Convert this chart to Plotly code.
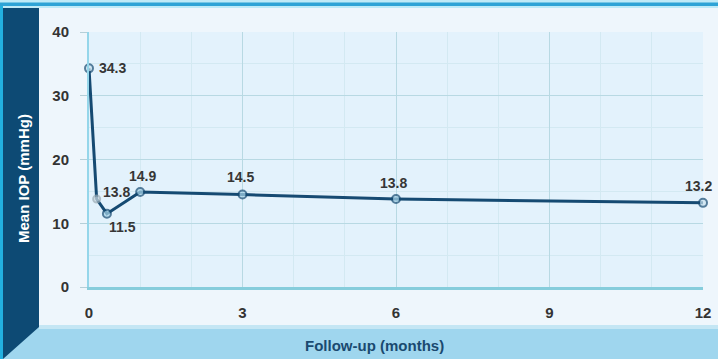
import plotly.graph_objects as go

# Data
months = [0, 0.15, 0.35, 1, 3, 6, 12]
mean_iop = [34.3, 13.8, 11.5, 14.9, 14.5, 13.8, 13.2]
labels = ["34.3", "13.8", "11.5", "14.9", "14.5", "13.8", "13.2"]
x_ticks = [0, 3, 6, 9, 12]
y_ticks = [0, 10, 20, 30, 40]

# label placement (style): anchor, xshift, yshift in pixels
label_style = [("left", 8, 0), ("left", 4, 7), ("left", 0, -13), ("center", 2, 16),
               ("center", -2, 18), ("center", -3, 16), ("center", -5, 17)]

W, H = 718, 359
L, R, T, B = 89, 15, 32, 72
PW, PH = W - L - R, H - T - B

def px(x):
    return (x - L) / PW

def py(y):
    return (H - B - y) / PH

FONT = "Liberation Sans, Arial, sans-serif"
NAVY = "#154a72"

fig = go.Figure()
fig.add_trace(go.Scatter(
    x=months, y=mean_iop, mode="lines+markers",
    line=dict(color=NAVY, width=3),
    marker=dict(size=[8, 7, 8, 8, 8, 8, 8],
                color=["#c8e2ef", "#d0dde3", "#a9d6ea", "#a9d6ea", "#a9d6ea", "#a9d6ea", "#c8e2ef"],
                line=dict(color=[NAVY, "#9aaab3", NAVY, NAVY, NAVY, NAVY, NAVY], width=2)),
    cliponaxis=False, showlegend=False, hoverinfo="x+y",
))

shapes = [
    # top strip
    dict(type="rect", xref="paper", yref="paper", x0=px(0), x1=px(W + 20), y0=py(8), y1=py(0),
         fillcolor="#bfeaf7", line_width=0, layer="below"),
    dict(type="rect", xref="paper", yref="paper", x0=px(0), x1=px(W + 20), y0=py(6), y1=py(2.5),
         fillcolor="#2ea3d6", line_width=0, layer="below"),
    # bottom band
    dict(type="rect", xref="paper", yref="paper", x0=px(0), x1=px(W + 20), y0=py(H), y1=py(327),
         fillcolor="#9fd6ee", line_width=0, layer="below"),
    dict(type="rect", xref="paper", yref="paper", x0=px(39), x1=px(W + 20), y0=py(329), y1=py(325),
         fillcolor="#c4e6f4", line_width=0, layer="below"),
    # left cyan border
    dict(type="rect", xref="paper", yref="paper", x0=px(0), x1=px(3), y0=py(H), y1=py(6),
         fillcolor="#22b0e0", line_width=0, layer="below"),
    # navy side panel with diagonal bottom
    dict(type="path", xref="paper", yref="paper",
         path=f"M {px(3)},{py(8)} L {px(39)},{py(8)} L {px(39)},{py(327)} L {px(3)},{py(359)} Z",
         fillcolor="#0d4a74", line_width=0, layer="below"),
]

annotations = [
    dict(text="Mean IOP (mmHg)", xref="paper", yref="paper", x=px(23), y=py(179),
         textangle=-90, showarrow=False, xanchor="center", yanchor="middle",
         font=dict(family=FONT, size=15, color="white", weight="bold")),
    dict(text="Follow-up (months)", xref="paper", yref="paper", x=px(374), y=py(345),
         showarrow=False, xanchor="center", yanchor="middle",
         font=dict(family=FONT, size=15, color="#1a4a70", weight="bold")),
]
for xv, yv, lab, (anc, xs, ys) in zip(months, mean_iop, labels, label_style):
    annotations.append(dict(
        x=xv, y=yv, xref="x", yref="y", text=lab, showarrow=False,
        xanchor=anc, yanchor="middle", xshift=xs, yshift=ys,
        font=dict(family=FONT, size=14, color="#363636", weight="bold")))

fig.update_layout(
    width=W, height=H, autosize=False,
    margin=dict(l=L, r=R, t=T, b=B, pad=0, autoexpand=False),
    paper_bgcolor="#eef6fc", plot_bgcolor="#e3f2fc",
    shapes=shapes, annotations=annotations,
    font=dict(family=FONT, color="#333333"),
)
fig.update_xaxes(
    range=[0, 12], tickvals=x_ticks, ticktext=[str(v) for v in x_ticks],
    showgrid=True, gridcolor="#b8d9e3", gridwidth=1,
    minor=dict(dtick=1, tick0=0, showgrid=True, gridcolor="#d3e9f2", gridwidth=1),
    showline=True, linecolor="#86cddc", linewidth=3,
    ticks="", ticklabelstandoff=10, zeroline=False, automargin=False,
    tickfont=dict(family=FONT, size=15, color="#333333", weight="bold"),
)
fig.update_yaxes(
    range=[0, 40], tickvals=y_ticks,
    showgrid=True, gridcolor="#b8d9e3", gridwidth=1,
    minor=dict(dtick=5, tick0=0, showgrid=True, gridcolor="#d3e9f2", gridwidth=1),
    showline=True, linecolor="#95d6ea", linewidth=2,
    ticks="outside", ticklen=7, tickcolor="#b5cfd8", tickwidth=1,
    ticklabelstandoff=8, zeroline=False, automargin=False,
    tickfont=dict(family=FONT, size=15, color="#333333", weight="bold"),
)
fig.write_html("out.html")
